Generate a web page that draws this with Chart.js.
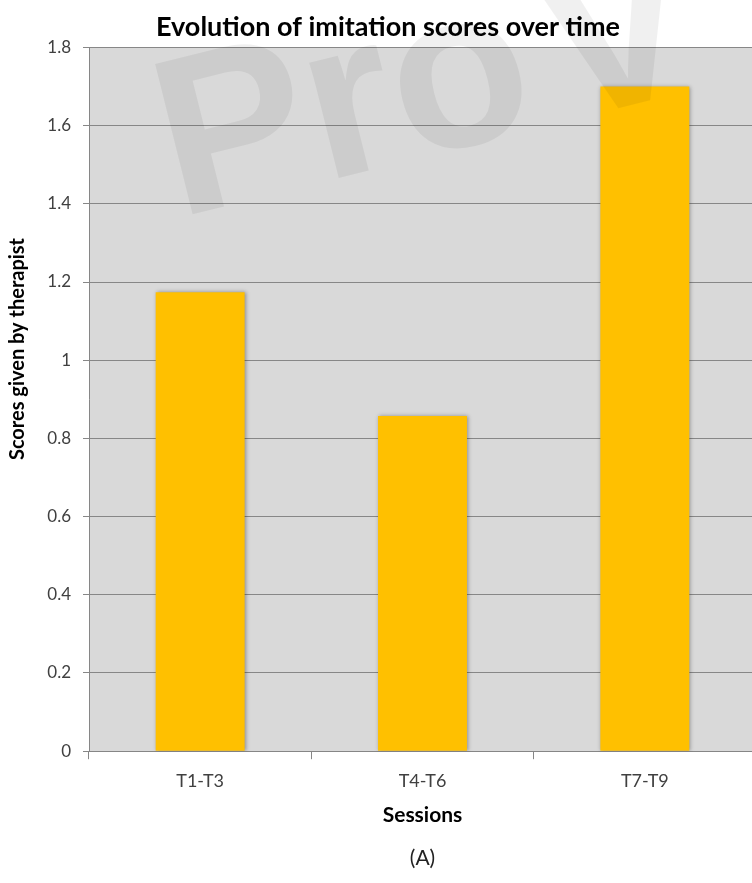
<!DOCTYPE html>
<html>
<head>
<meta charset="utf-8">
<title>Evolution of imitation scores over time</title>
<script src="https://cdn.jsdelivr.net/npm/chart.js@4.4.1/dist/chart.umd.min.js"></script>
<style>
  html, body { margin: 0; padding: 0; background: #fff; overflow: hidden; }
  #wrap { width: 776px; height: 883px; position: relative; }
</style>
</head>
<body>
<div id="wrap"><canvas id="scoreChart"></canvas></div>
<script>
const sessions = ['T1-T3', 'T4-T6', 'T7-T9'];
const imitationScores = [1.174, 0.857, 1.70];
const yTickLabels = ['0', '0.2', '0.4', '0.6', '0.8', '1', '1.2', '1.4', '1.6', '1.8'];
const yMin = 0;
const yMax = 1.8;
const yStep = 0.2;

const FONT = 'Lato';
Chart.defaults.font.family = FONT;

// grey plotting area behind the grid
const plotBackground = {
    id: 'plotBackground',
    beforeDraw(chart) {
        const { ctx, chartArea: a } = chart;
        ctx.save();
        ctx.fillStyle = '#d9d9d9';
        ctx.fillRect(a.left, a.top, a.right - a.left, a.bottom - a.top);
        ctx.restore();
    }
};

// soft shadow around the bars
const barShadow = {
    id: 'barShadow',
    beforeDatasetsDraw(chart) {
        const ctx = chart.ctx;
        ctx.save();
        ctx.shadowColor = 'rgba(0,0,0,0.35)';
        ctx.shadowBlur = 4;
        ctx.shadowOffsetX = 1;
        ctx.shadowOffsetY = 0;
    },
    afterDatasetsDraw(chart) {
        chart.ctx.restore();
    }
};

// y axis title, caption and the faint stamp across the chart
const extraText = {
    id: 'extraText',
    afterDraw(chart) {
        const { ctx, chartArea: a, height } = chart;
        ctx.save();
        ctx.fillStyle = '#000';
        ctx.textAlign = 'center';
        ctx.textBaseline = 'middle';

        ctx.save();
        ctx.translate(18, 349);
        ctx.rotate(-Math.PI / 2);
        ctx.font = 'bold 20px ' + FONT;
        ctx.fillText('Scores given by therapist', 0, 0);
        ctx.restore();

        ctx.font = '21px ' + FONT;
        ctx.fillStyle = '#222';
        ctx.fillText('(A)', (a.left + a.right) / 2, height - 25);

        ctx.translate(178, 218);
        ctx.rotate(-14 * Math.PI / 180);
        ctx.textAlign = 'left';
        ctx.textBaseline = 'alphabetic';
        ctx.font = 'bold 225px "Liberation Sans"';
        ctx.fillStyle = 'rgba(0,0,0,0.06)';
        ctx.fillText('Pro', 0, 0);
        ctx.fillText('V', ctx.measureText('Pro').width + 20, 0);
        ctx.restore();
    }
};

new Chart(document.getElementById('scoreChart'), {
    type: 'bar',
    data: {
        labels: sessions,
        datasets: [{
            label: 'Imitation score',
            data: imitationScores,
            backgroundColor: '#ffc000',
            borderWidth: 0,
            categoryPercentage: 1,
            barPercentage: 0.4
        }]
    },
    options: {
        responsive: true,
        maintainAspectRatio: false,
        animation: false,
        layout: {
            padding: { left: 20, right: 20, top: 0, bottom: 55 }
        },
        plugins: {
            legend: { display: false },
            tooltip: { enabled: false },
            title: {
                display: true,
                text: 'Evolution of imitation scores over time',
                color: '#000',
                font: { size: 27, weight: 'bold' },
                padding: { top: 11, bottom: 4 }
            }
        },
        scales: {
            x: {
                grid: {
                    offset: true,
                    drawOnChartArea: false,
                    drawTicks: true,
                    tickLength: 8,
                    color: '#868686'
                },
                border: { color: '#868686' },
                ticks: { color: '#404040', font: { size: 18 }, padding: 11 },
                title: {
                    display: true,
                    text: 'Sessions',
                    color: '#000',
                    font: { size: 21, weight: 'bold' },
                    padding: { top: 0, bottom: 0 }
                }
            },
            y: {
                min: yMin,
                max: yMax,
                grid: { color: '#878787', tickLength: 6 },
                border: { color: '#868686' },
                ticks: {
                    stepSize: yStep,
                    color: '#404040',
                    font: { size: 17 },
                    padding: 12,
                    callback: (value, index) => yTickLabels[index]
                },
                // room on the left for the rotated axis title
                afterFit: (scale) => { scale.width = 69; }
            }
        }
    },
    plugins: [plotBackground, barShadow, extraText]
});
</script>
</body>
</html>
